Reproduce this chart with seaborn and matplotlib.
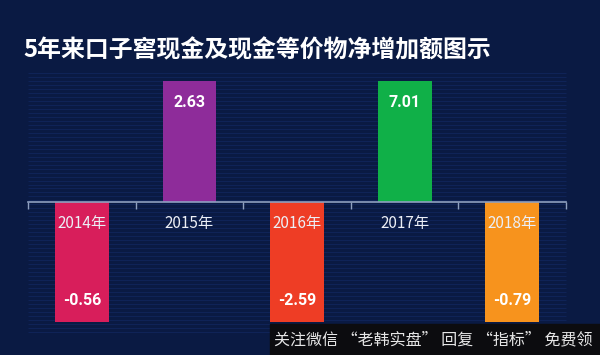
import numpy as np
import matplotlib
matplotlib.use('Agg')
import matplotlib.pyplot as plt
import seaborn as sns
from matplotlib.patches import Rectangle

# chart data
years = ['2014年', '2015年', '2016年', '2017年', '2018年']
values = [-0.56, 2.63, -2.59, 7.01, -0.79]
# in the picture every bar is drawn to the same length, only the sign differs
bar_heights = [-1, 1, -1, 1, -1]
colors = ['#d81e5b', '#8e2c9a', '#ee3d25', '#10b048', '#f7931d']
title = '5年来口子窖现金及现金等价物净增加额图示'
note = '关注微信 “老韩实盘” 回复 “指标” 免费领'

bg = '#0a1a43'
axis_col = '#8fa0c0'

sns.set_theme(style='dark')
plt.rcParams['font.family'] = ['Noto Sans CJK SC', 'DejaVu Sans']

fig = plt.figure(figsize=(6, 3.55), dpi=100, facecolor=bg)
ax = fig.add_axes([28 / 600, 33 / 355, 538 / 600, 241 / 355])
ax.set_facecolor(bg)
ax.set_axisbelow(False)

# faint scan-line texture behind the bars
ax.hlines(np.arange(-1.08, 1.09, 0.033), -0.5, 4.5, color='#10255c',
          lw=0.6, zorder=0, clip_on=False)

sns.barplot(x=years, y=bar_heights, hue=years, palette=colors, legend=False,
            width=0.5, saturation=1, linewidth=0, ax=ax, zorder=1)

ax.set_xlim(-0.5, 4.5)
ax.set_ylim(-1, 1)
ax.grid(False)
ax.set_xlabel('')
ax.set_ylabel('')
ax.set_yticks([])

for s in ['top', 'left', 'right']:
    ax.spines[s].set_visible(False)
ax.spines['bottom'].set_position(('data', 0))
ax.spines['bottom'].set_color(axis_col)
ax.spines['bottom'].set_linewidth(1.2)
ax.spines['bottom'].set_zorder(3)

ax.set_xticks(np.arange(-0.5, 5, 1))
ax.set_xticklabels([])
ax.set_xticks(range(len(years)), minor=True)
ax.set_xticklabels(years, minor=True)
ax.tick_params(axis='x', which='major', bottom=True, length=5, width=1,
               color=axis_col, direction='out')
ax.tick_params(axis='x', which='minor', bottom=True, length=0, pad=10,
               labelsize=11, labelcolor='#eceff6')

for i, (v, h) in enumerate(zip(values, bar_heights)):
    ax.text(i, h * 0.82, f'{v:.2f}', ha='center', va='center', color='white',
            fontsize=11.5, fontweight='bold', family=['Roboto'], zorder=4)

fig.text(23 / 600, 1 - 50 / 355, title, ha='left', va='center', color='white',
         fontsize=17.2, fontweight='bold')

# watermark strip at the bottom right
fig.patches.append(Rectangle((270 / 600, 0), 330 / 600, 31 / 355,
                             transform=fig.transFigure, color='#0c0c0f'))
fig.text(433 / 600, 15 / 355, note, ha='center', va='center',
         color='#e6e6e6', fontsize=11.5)

fig.savefig('out.png', dpi=100, facecolor=bg)
